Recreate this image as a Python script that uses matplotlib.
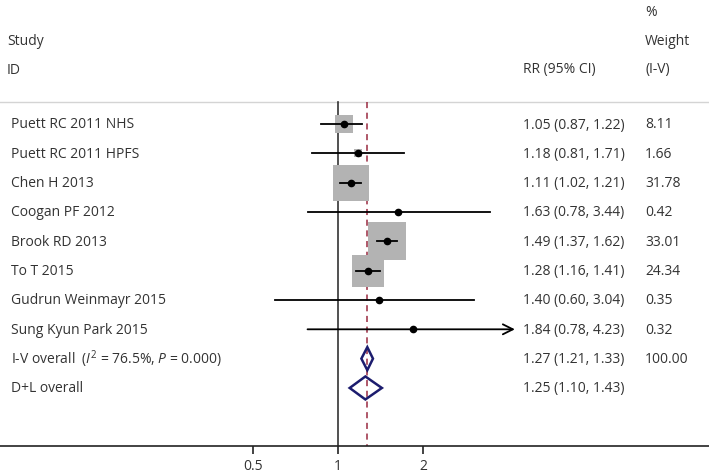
import matplotlib
matplotlib.use("Agg")
import matplotlib.pyplot as plt
from matplotlib.patches import Polygon
from matplotlib.ticker import FixedLocator, FixedFormatter

plt.rcParams["font.family"] = ["Open Sans", "DejaVu Sans"]
plt.rcParams["mathtext.fontset"] = "custom"
plt.rcParams["mathtext.rm"] = "Open Sans"
plt.rcParams["mathtext.it"] = "Open Sans:italic"

# study data
studies = ["Puett RC 2011 NHS", "Puett RC 2011 HPFS", "Chen H 2013", "Coogan PF 2012",
           "Brook RD 2013", "To T 2015", "Gudrun Weinmayr 2015", "Sung Kyun Park 2015"]
rr = [1.05, 1.18, 1.11, 1.63, 1.49, 1.28, 1.40, 1.84]
lo = [0.87, 0.81, 1.02, 0.78, 1.37, 1.16, 0.60, 0.78]
hi = [1.22, 1.71, 1.21, 3.44, 1.62, 1.41, 3.04, 4.23]
weight = [8.11, 1.66, 31.78, 0.42, 33.01, 24.34, 0.35, 0.32]

# pooled estimates
pooled_labels = ["I-V overall  ($\\it{I}^2$ = 76.5%, $\\it{P}$ = 0.000)", "D+L overall"]
pooled_rr = [1.27, 1.25]
pooled_lo = [1.21, 1.10]
pooled_hi = [1.33, 1.43]
pooled_weight = ["100.00", ""]

xticks = [0.5, 1, 2]
xticklabels = ["0.5", "1", "2"]

TXT = "#333333"
fig = plt.figure(figsize=(7.09, 4.77), dpi=100)
H = 477.0
ax = fig.add_axes([0, 1 - 447 / H, 1, 447 / H])
ax.set_xscale("log", base=2)
ppd = 85.0  # pixels per doubling
ax.set_xlim(2 ** (-338 / ppd), 2 ** ((709 - 338) / ppd))
row_px = 29.33
ax.set_ylim(1 + (447 - 125) / row_px, 1 - 125 / row_px)

for s in ["top", "left", "right"]:
    ax.spines[s].set_visible(False)
ax.spines["bottom"].set_color("#222222")
ax.spines["bottom"].set_linewidth(1.2)
ax.set_yticks([])
ax.xaxis.set_major_locator(FixedLocator(xticks))
ax.xaxis.set_major_formatter(FixedFormatter(xticklabels))
ax.xaxis.set_minor_locator(FixedLocator([]))
ax.tick_params(axis="x", length=6, width=1.2, color="#222222", labelsize=10,
               labelcolor=TXT, pad=3)

y_top = 1 - (125 - 103) / row_px
ybot = ax.get_ylim()[0]
ax.axhline(y_top, color="#d4d4d4", lw=1.0)
ax.plot([1, 1], [y_top, ybot], color="#333333", lw=1.2)
ax.plot([pooled_rr[0]] * 2, [y_top, ybot], color="#9a2a40", lw=1.1,
        ls=(0, (4, 3)))

tr = ax.get_yaxis_transform()
fs = 10
for i, name in enumerate(studies):
    y = i + 1
    side = 6.56 * weight[i] ** 0.5 * 0.72
    ax.plot(rr[i], y, marker="s", ms=side, color="#b3b3b3", mew=0, zorder=2)
    if i == len(studies) - 1:
        ax.annotate("", xy=(hi[i], y), xytext=(lo[i], y),
                    arrowprops=dict(arrowstyle="->", lw=1.3, color="black",
                                    mutation_scale=18, shrinkA=0, shrinkB=0),
                    zorder=3)
    else:
        ax.plot([lo[i], hi[i]], [y, y], color="black", lw=1.3, zorder=3)
    ax.plot(rr[i], y, "o", ms=4.5, color="black", zorder=4)
    ax.text(11 / 709, y, name, transform=tr, va="center", fontsize=fs, color=TXT)
    ax.text(523 / 709, y, f"{rr[i]:.2f} ({lo[i]:.2f}, {hi[i]:.2f})",
            transform=tr, va="center", fontsize=fs, color=TXT)
    ax.text(645 / 709, y, f"{weight[i]:.2f}", transform=tr, va="center",
            fontsize=fs, color=TXT)

dh = 11.5 / row_px
for j, lab in enumerate(pooled_labels):
    y = len(studies) + 1 + j
    ax.add_patch(Polygon([(pooled_lo[j], y), (pooled_rr[j], y - dh),
                          (pooled_hi[j], y), (pooled_rr[j], y + dh)],
                         closed=True, fill=False, edgecolor="#1c1c6e", lw=1.8,
                         zorder=4))
    ax.text(11 / 709, y, lab, transform=tr, va="center", fontsize=fs, color=TXT)
    ax.text(523 / 709, y, f"{pooled_rr[j]:.2f} ({pooled_lo[j]:.2f}, {pooled_hi[j]:.2f})",
            transform=tr, va="center", fontsize=fs, color=TXT)
    ax.text(645 / 709, y, pooled_weight[j], transform=tr, va="center",
            fontsize=fs, color=TXT)


# header
def yrow(px):
    return 1 + (px - 125) / row_px


ax.text(7 / 709, yrow(41), "Study", transform=tr, va="center", fontsize=fs, color=TXT)
ax.text(7 / 709, yrow(70), "ID", transform=tr, va="center", fontsize=fs, color=TXT)
ax.text(523 / 709, yrow(70), "RR (95% CI)", transform=tr, va="center", fontsize=fs, color=TXT)
ax.text(645 / 709, yrow(12), "%", transform=tr, va="center", fontsize=fs, color=TXT)
ax.text(645 / 709, yrow(41), "Weight", transform=tr, va="center", fontsize=fs, color=TXT)
ax.text(645 / 709, yrow(70), "(I-V)", transform=tr, va="center", fontsize=fs, color=TXT)

fig.savefig("out.png", dpi=100)
